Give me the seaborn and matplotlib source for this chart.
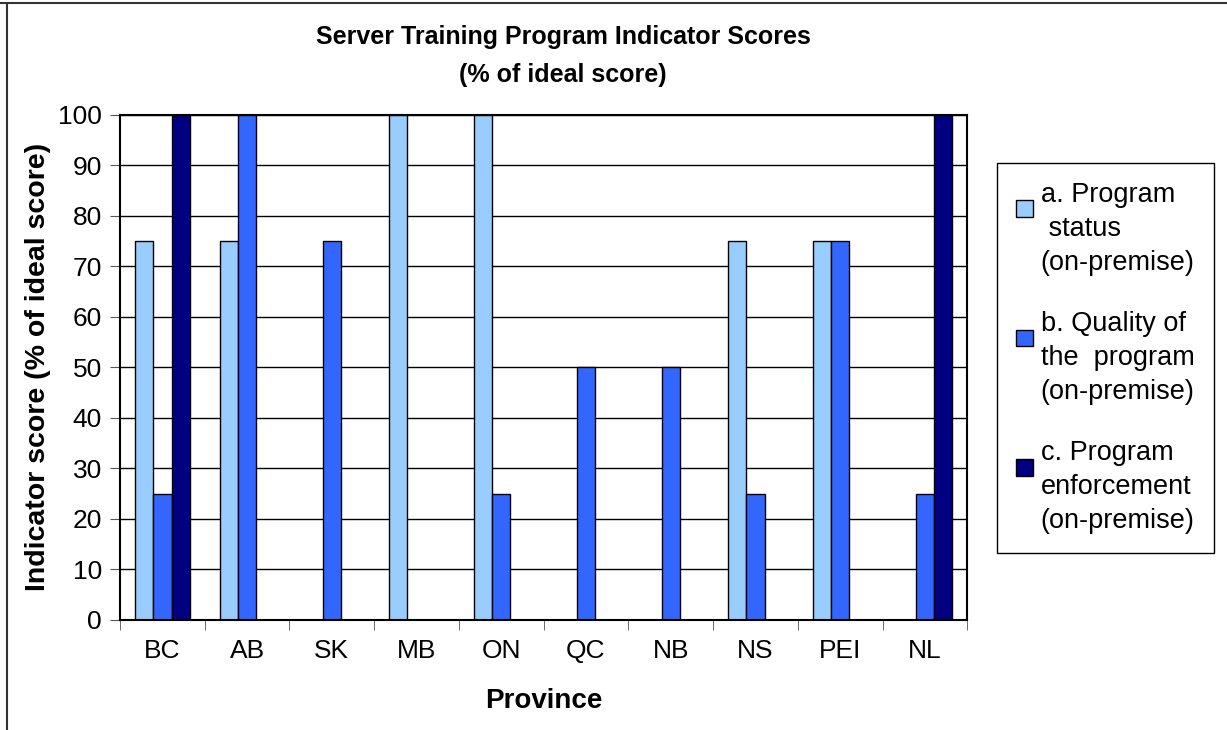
import pandas as pd
import numpy as np
import matplotlib.pyplot as plt
import seaborn as sns
from matplotlib.lines import Line2D
from matplotlib.patches import Rectangle
from matplotlib.legend_handler import HandlerPatch

# --- data ---
provinces = ['BC', 'AB', 'SK', 'MB', 'ON', 'QC', 'NB', 'NS', 'PEI', 'NL']
program_status = [75, 75, 0, 100, 100, 0, 0, 75, 75, 0]
program_quality = [25, 100, 75, 0, 25, 50, 50, 25, 75, 25]
program_enforcement = [100, 0, 0, 0, 0, 0, 0, 0, 0, 100]
series_names = ['a. Program\n status\n(on-premise)',
                'b. Quality of\nthe  program\n(on-premise)',
                'c. Program\nenforcement\n(on-premise)']
colors = ['#99CCFF', '#3366FF', '#000080']

df = pd.DataFrame({'Province': provinces,
                   series_names[0]: program_status,
                   series_names[1]: program_quality,
                   series_names[2]: program_enforcement})
long_df = df.melt(id_vars='Province', var_name='Indicator', value_name='Score')

sns.set_style('white')
plt.rcParams['font.family'] = ['Liberation Sans', 'DejaVu Sans']
plt.rcParams['text.color'] = 'black'
plt.rcParams['axes.labelcolor'] = 'black'
plt.rcParams['xtick.color'] = 'black'
plt.rcParams['ytick.color'] = 'black'

fig = plt.figure(figsize=(12.27, 7.30), dpi=100)
ax = fig.add_axes([0.0978, 0.151, 0.6905, 0.6915])

sns.barplot(data=long_df, x='Province', y='Score', hue='Indicator',
            palette=colors, width=0.65, gap=0, edgecolor='black',
            linewidth=1, saturation=1, ax=ax, legend=True)

ax.set_ylim(0, 100)
ax.set_xlim(-0.5, len(provinces) - 0.5)
ax.set_yticks(range(0, 101, 10))
ax.yaxis.grid(True, color='black', linewidth=1)
ax.set_axisbelow(True)
for s in ['top', 'right', 'left', 'bottom']:
    ax.spines[s].set_visible(True)
    ax.spines[s].set_color('black')
    ax.spines[s].set_linewidth(1.5)

ax.tick_params(axis='y', which='major', left=True, length=7, color='#555555',
               labelsize=19, pad=6)
ax.tick_params(axis='x', which='major', bottom=False, length=0, labelsize=19, pad=14)
ax.set_xticks(np.arange(-0.5, len(provinces), 1), minor=True)
ax.tick_params(axis='x', which='minor', bottom=True, length=7, color='#555555')

ax.set_xlabel('Province', fontsize=20, fontweight='bold', labelpad=18)
ax.set_ylabel('Indicator score (% of ideal score)', fontsize=20.5, fontweight='bold',
              labelpad=5)

fig.text(0.459, 0.966, 'Server Training Program Indicator Scores\n(% of ideal score)',
         ha='center', va='top', fontsize=18, fontweight='bold', linespacing=1.75)


# legend swatch sits at the first text line, like the original
def top_square(legend, orig_handle, xdescent, ydescent, width, height, fontsize):
    sq = 0.62 * fontsize
    return Rectangle((-xdescent, -ydescent + height - sq * 1.25), sq, sq)


handles, labels = ax.get_legend_handles_labels()
leg = ax.legend(handles, labels, loc='upper left', bbox_to_anchor=(0.8125, 0.777),
                bbox_transform=fig.transFigure, fontsize=19.5, frameon=True,
                fancybox=False, edgecolor='black', framealpha=1,
                handlelength=0.62, handleheight=3.6, handletextpad=0.3,
                labelspacing=1.3, borderpad=0.7, borderaxespad=0,
                handler_map={h: HandlerPatch(patch_func=top_square) for h in handles})
for t in leg.get_texts():
    t.set_linespacing(1.4)
leg.get_frame().set_linewidth(1)

# figure border (top and left edges visible in the reference)
fig.add_artist(Line2D([0, 1], [0.996, 0.996], color='#333333', linewidth=1.5,
                      transform=fig.transFigure))
fig.add_artist(Line2D([0.006, 0.006], [0, 0.996], color='#333333', linewidth=1.5,
                      transform=fig.transFigure))

plt.savefig('out.png', dpi=100)
